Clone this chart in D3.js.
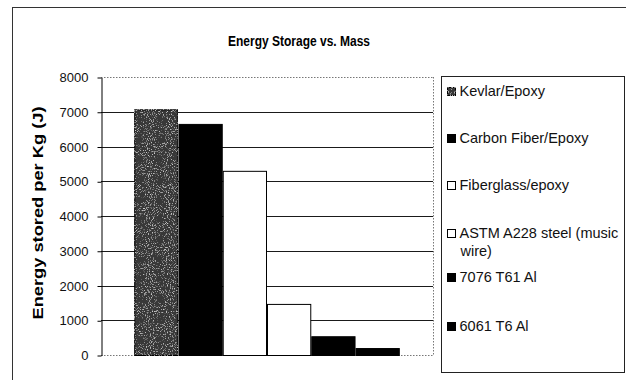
<!DOCTYPE html>
<html>
<head>
<meta charset="utf-8">
<script src="https://cdn.jsdelivr.net/npm/d3@7"></script>
<style>
  html, body { margin: 0; padding: 0; background: #fff; }
  svg { display: block; font-family: Arial, "Liberation Sans", sans-serif; }
</style>
</head>
<body>
<svg id="chart" width="626" height="380"></svg>
<script>
// Energy stored per kilogram for each spring material
const materials = ["Kevlar/Epoxy", "Carbon Fiber/Epoxy", "Fiberglass/epoxy",
                   "ASTM A228 steel (music wire)", "7076 T61 Al", "6061 T6 Al"];
const energyPerKg = [7070, 6650, 5300, 1470, 540, 200];
const legendLines = [["Kevlar/Epoxy"], ["Carbon Fiber/Epoxy"], ["Fiberglass/epoxy"],
                     ["ASTM A228 steel (music", "wire)"], ["7076 T61 Al"], ["6061 T6 Al"]];
const yTicks = [0, 1000, 2000, 3000, 4000, 5000, 6000, 7000, 8000];
const fills = ["#383838", "#000", "#fff", "#fff", "#000", "#000"];

const svg = d3.select("#chart");
const defs = svg.append("defs");

// grainy dark-grey fill for the Kevlar series
const grain = defs.append("filter").attr("id", "grain")
  .attr("x", 0).attr("y", 0).attr("width", 1).attr("height", 1);
grain.append("feTurbulence").attr("type", "fractalNoise")
  .attr("baseFrequency", 0.95).attr("numOctaves", 2).attr("seed", 3).attr("result", "n");
grain.append("feColorMatrix").attr("in", "n").attr("type", "matrix")
  .attr("values", "0 0 0 0 0.6  0 0 0 0 0.6  0 0 0 0 0.6  4 0 0 0 -2.25")
  .attr("result", "speck");
grain.append("feComposite").attr("in", "speck").attr("in2", "SourceGraphic")
  .attr("operator", "in").attr("result", "specks");
const merge = grain.append("feMerge");
merge.append("feMergeNode").attr("in", "SourceGraphic");
merge.append("feMergeNode").attr("in", "specks");

// outer chart frame
svg.append("rect").attr("x", 12.5).attr("y", 7.5).attr("width", 700).attr("height", 500)
  .attr("fill", "none").attr("stroke", "#333").attr("stroke-width", 1);

// title
svg.append("text").attr("x", 228).attr("y", 46)
  .attr("font-size", 15).attr("font-weight", "bold")
  .attr("textLength", 142).attr("lengthAdjust", "spacingAndGlyphs")
  .text("Energy Storage vs. Mass");

// plot geometry
const plot = { left: 101, right: 433, top: 77, bottom: 355 };
const y = d3.scaleLinear().domain([0, 8000]).range([plot.bottom, plot.top]);
const barW = (plot.right - plot.left) / 7.5;
const x = d3.scaleBand().domain(materials)
  .range([plot.left + 0.75 * barW, plot.right - 0.75 * barW]).padding(0);

// gridlines
svg.append("g").selectAll("line").data(yTicks.filter(t => t > 0 && t < 8000)).join("line")
  .attr("x1", plot.left).attr("x2", plot.right)
  .attr("y1", d => Math.round(y(d)) + 0.5).attr("y2", d => Math.round(y(d)) + 0.5)
  .attr("stroke", "#1a1a1a").attr("stroke-width", 1);

// plot-area border (dotted)
const pb = svg.append("g").attr("stroke", "#777").attr("stroke-dasharray", "1.5,1.5").attr("fill", "none");
pb.append("line").attr("x1", plot.left).attr("x2", plot.right)
  .attr("y1", plot.top + 0.5).attr("y2", plot.top + 0.5);
pb.append("line").attr("x1", plot.right + 0.5).attr("x2", plot.right + 0.5)
  .attr("y1", plot.top).attr("y2", plot.bottom);
pb.append("line").attr("x1", plot.left).attr("x2", plot.right)
  .attr("y1", plot.bottom + 0.5).attr("y2", plot.bottom + 0.5);

// bars
svg.append("g").selectAll("rect").data(materials).join("rect")
  .attr("x", d => x(d) + 0.5)
  .attr("y", (d, i) => y(energyPerKg[i]) + 0.5)
  .attr("width", x.bandwidth() - 1)
  .attr("height", (d, i) => y(0) - y(energyPerKg[i]))
  .attr("fill", (d, i) => fills[i])
  .attr("filter", (d, i) => i === 0 ? "url(#grain)" : null)
  .attr("stroke", "#000").attr("stroke-width", 1);

// y axis
const yAxis = d3.axisLeft(y).tickValues(yTicks).tickSize(4).tickSizeOuter(0).tickPadding(9)
  .tickFormat(d3.format("d"));
const ax = svg.append("g").attr("transform", `translate(${plot.left + 0.5},0.5)`).call(yAxis);
ax.select(".domain").attr("stroke", "#000");
ax.selectAll(".tick line").attr("stroke", "#000");
ax.selectAll(".tick text").attr("font-size", 13).attr("fill", "#111")
  .attr("font-family", "Arial, 'Liberation Sans', sans-serif");

// y axis title
svg.append("text")
  .attr("transform", "translate(43,213) rotate(-90)")
  .attr("text-anchor", "middle")
  .attr("font-size", 14).attr("font-weight", "bold")
  .attr("textLength", 213).attr("lengthAdjust", "spacingAndGlyphs")
  .text("Energy stored per Kg (J)");

// legend
svg.append("rect").attr("x", 441.5).attr("y", 76.5).attr("width", 183).attr("height", 296)
  .attr("fill", "#fff").attr("stroke", "#222").attr("stroke-width", 1);
const legendBase = [96, 143, 190, 238, 282, 331];
const lg = svg.append("g").selectAll("g").data(materials).join("g")
  .attr("transform", (d, i) => `translate(0,${legendBase[i]})`);
lg.append("rect").attr("x", 447.5).attr("y", -8.5).attr("width", 8).attr("height", 8)
  .attr("fill", (d, i) => fills[i])
  .attr("filter", (d, i) => i === 0 ? "url(#grain)" : null)
  .attr("stroke", "#000").attr("stroke-width", 1);
lg.each(function (d, i) {
  d3.select(this).selectAll("text").data(legendLines[i]).join("text")
    .attr("x", (t, j) => j === 0 ? 459.5 : 460.5)
    .attr("y", (t, j) => j * 17.5)
    .attr("font-size", 14.5).attr("fill", "#111")
    .text(t => t);
});
</script>
</body>
</html>
